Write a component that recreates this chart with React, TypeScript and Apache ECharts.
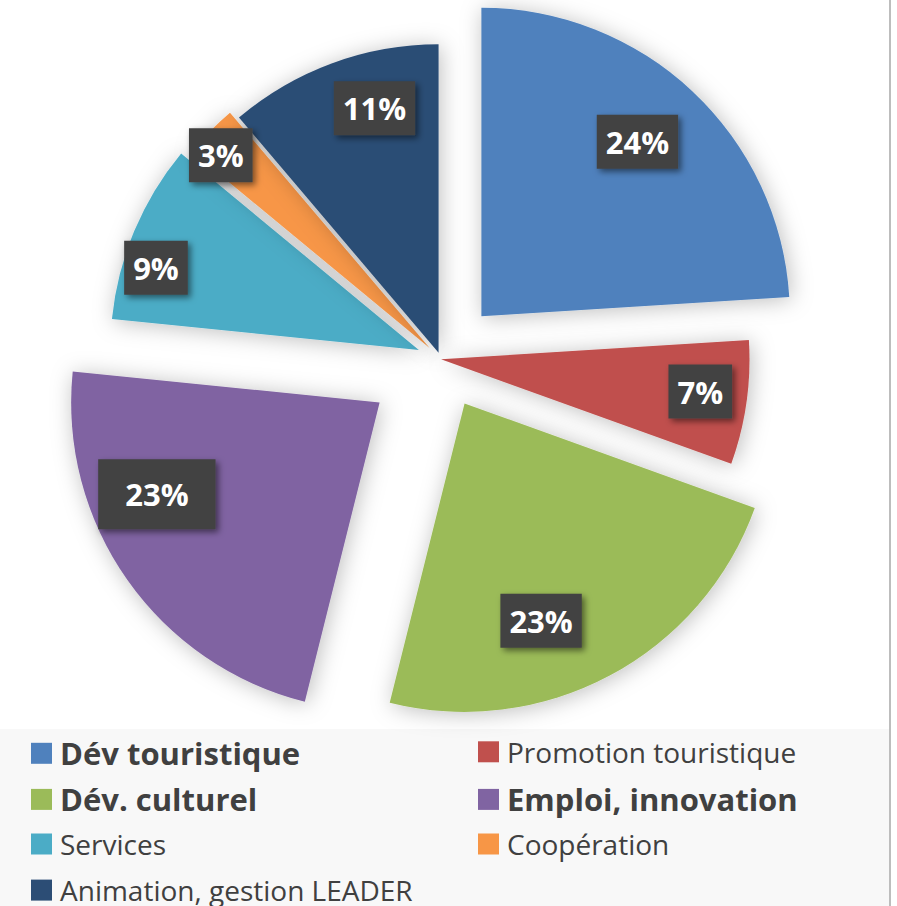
import React, { useEffect, useRef } from "react";
import * as echarts from "echarts";

// ---- data ----
const categories = [
  "Dév touristique",
  "Promotion touristique",
  "Dév. culturel",
  "Emploi, innovation",
  "Services",
  "Coopération",
  "Animation, gestion LEADER",
];
const shares = [24.0, 6.5, 23.4, 22.7, 9.4, 2.8, 11.2];
const legendLeftColumn = [0, 2, 4, 6];
const legendRightColumn = [1, 3, 5];

// ---- styles ----
const sliceColors = ["#4f81bd", "#c0504d", "#9bbb59", "#8064a2", "#4bacc6", "#f79646", "#2c4d75"];
const explodeOffsets = [59, 0, 50, 75, 24, 16, 7];
const labelRadiusFrac = [0.759, 0.847, 0.747, 0.781, 0.893, 0.921, 0.819];
const labelAngleDeg = [41.8, 97.1, 160.6, 247.6, 287.4, 312.7, 345.3];
const labelPadding = [[8, 9], [8, 9], [8, 9], [16, 27], [8, 9], [8, 9], [8, 9]];
const legendBold = [true, false, true, true, false, false, false];
const legendColumnX = [31, 478];
const legendFirstRowCenter = 753.3;
const legendRowPitch = 46.1;
const FONT = "'Open Sans', 'Noto Sans', sans-serif";

const CX = 441;
const CY = 359.3;
const R = 308.5;

function buildOption() {
  const total = shares.reduce((a, b) => a + b, 0);
  let acc = 0;
  const mids = shares.map((v) => {
    const m = ((acc + v / 2) / total) * 360;
    acc += v;
    return m;
  });
  const centers = mids.map((m, i) => {
    const r = (m * Math.PI) / 180;
    return [CX + explodeOffsets[i] * Math.sin(r), CY - explodeOffsets[i] * Math.cos(r)];
  });

  const series = categories.map((_, i) => ({
    type: "pie",
    name: "s" + i,
    center: centers[i],
    radius: R,
    startAngle: 90,
    clockwise: true,
    avoidLabelOverlap: false,
    percentPrecision: 0,
    silent: true,
    z: 2,
    label: { show: false },
    labelLine: { show: false },
    emphasis: { disabled: true },
    labelLayout: (p: any) => {
      if (p.dataIndex !== i) return {};
      const a = (labelAngleDeg[i] * Math.PI) / 180;
      const d = labelRadiusFrac[i] * R;
      return { x: centers[i][0] + d * Math.sin(a), y: centers[i][1] - d * Math.cos(a) };
    },
    data: categories.map((name, j) => ({
      name,
      value: shares[j],
      itemStyle:
        j === i
          ? {
              color: sliceColors[j],
              borderWidth: 0,
              shadowBlur: 22,
              shadowColor: "rgba(0,0,0,0.26)",
              shadowOffsetX: 2,
              shadowOffsetY: 2,
            }
          : { color: "rgba(0,0,0,0)", borderWidth: 0 },
      label:
        j === i
          ? {
              show: true,
              position: "inside",
              formatter: "{d}%",
              color: "#ffffff",
              fontFamily: FONT,
              fontWeight: "bold",
              fontSize: 31,
              lineHeight: 38,
              backgroundColor: "#424242",
              padding: labelPadding[i],
              shadowColor: "rgba(0,0,0,0.5)",
              shadowBlur: 6,
              shadowOffsetX: 3,
              shadowOffsetY: 3,
            }
          : { show: false },
    })),
  }));

  const legendOne = (j: number, col: number, row: number) => ({
    orient: "vertical",
    left: legendColumnX[col],
    top: legendFirstRowCenter + row * legendRowPitch - 15.5,
    height: 60,
    padding: 0,
    itemWidth: 21,
    itemHeight: 21,
    itemGap: 10,
    icon: "rect",
    selectedMode: false,
    z: 4,
    textStyle: { color: "#404040", fontFamily: FONT, fontSize: 28, lineHeight: 28, padding: [0, 0, 0, 3] },
    data: [
      {
        name: categories[j],
        itemStyle: { color: sliceColors[j], borderWidth: 0 },
        textStyle: legendBold[j]
          ? { fontWeight: "bold", fontSize: 31, lineHeight: 28, color: "#404040", fontFamily: FONT }
          : { fontWeight: "normal", fontSize: 28, lineHeight: 28, color: "#404040", fontFamily: FONT },
      },
    ],
  });

  const legends = [
    ...legendLeftColumn.map((j, row) => legendOne(j, 0, row)),
    ...legendRightColumn.map((j, row) => legendOne(j, 1, row)),
  ];

  return {
    animation: false,
    backgroundColor: "#ffffff",
    textStyle: { fontFamily: FONT },
    graphic: [
      {
        type: "rect",
        z: 0,
        silent: true,
        shape: { x: 0, y: 729, width: 889, height: 177 },
        style: { fill: "#f8f8f8" },
      },
      {
        type: "rect",
        z: 0,
        silent: true,
        shape: { x: 889, y: 0, width: 2, height: 906 },
        style: { fill: "#bdbdbd" },
      },
    ],
    legend: legends,
    series,
  };
}

export default function App() {
  const ref = useRef<HTMLDivElement>(null);
  useEffect(() => {
    document.body.style.margin = "0";
    if (!ref.current) return;
    const chart = echarts.init(ref.current, undefined, { renderer: "svg" });
    chart.setOption(buildOption() as any);
    return () => chart.dispose();
  }, []);
  return <div ref={ref} style={{ width: 897, height: 906 }} />;
}
